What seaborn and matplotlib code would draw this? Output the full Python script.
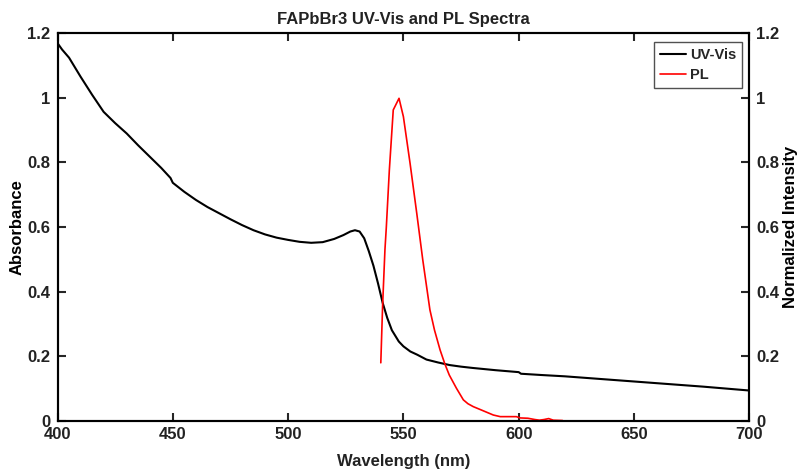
import numpy as np
import pandas as pd
import matplotlib
matplotlib.use("Agg")
import matplotlib.pyplot as plt
from matplotlib.ticker import FuncFormatter
import seaborn as sns

# UV-Vis absorbance
uv_wavelength = [400, 402, 405, 410, 415, 420, 425, 430, 435, 440, 445, 449, 450,
                 455, 460, 465, 470, 475, 480, 485, 490, 495, 500, 505, 510, 515,
                 520, 524, 527, 529, 531, 533, 535, 537, 539, 541, 543, 545, 548,
                 550, 553, 556, 560, 565, 570, 575, 580, 590, 600, 601, 610, 620,
                 635, 650, 665, 680, 700]
uv_absorbance = [1.17, 1.15, 1.125, 1.066, 1.01, 0.957, 0.922, 0.890, 0.853, 0.818,
                 0.783, 0.752, 0.737, 0.709, 0.684, 0.662, 0.643, 0.624, 0.606,
                 0.590, 0.577, 0.567, 0.560, 0.554, 0.551, 0.553, 0.563, 0.575,
                 0.586, 0.590, 0.586, 0.565, 0.525, 0.480, 0.425, 0.365, 0.318,
                 0.280, 0.245, 0.230, 0.214, 0.204, 0.189, 0.180, 0.172, 0.167,
                 0.163, 0.156, 0.150, 0.145, 0.141, 0.137, 0.129, 0.121, 0.113,
                 0.105, 0.093]

# PL normalized intensity
pl_wavelength = [540.2, 541, 542, 542.6, 543.9, 545.6, 548.1, 550, 552.9, 555.8,
                 558.4, 561.5, 563.5, 565.9, 568, 569.9, 573, 576, 578, 580.3,
                 584, 589, 592, 595, 599, 600.6, 604, 607, 609, 611, 613, 615, 619]
pl_intensity = [0.179, 0.36, 0.53, 0.60, 0.776, 0.963, 0.999, 0.942, 0.797, 0.642,
                0.498, 0.343, 0.28, 0.219, 0.175, 0.141, 0.10, 0.064, 0.052, 0.043,
                0.032, 0.017, 0.012, 0.012, 0.012, 0.008, 0.007, 0.003, 0.001,
                0.003, 0.006, 0.001, 0.0]

x_ticks = [400, 450, 500, 550, 600, 650, 700]
y_ticks = [0, 0.2, 0.4, 0.6, 0.8, 1.0, 1.2]

uv = pd.DataFrame({"Wavelength": uv_wavelength, "Absorbance": uv_absorbance})
pl = pd.DataFrame({"Wavelength": pl_wavelength, "Intensity": pl_intensity})

sns.set_style("ticks")
plt.rcParams["font.family"] = ["Liberation Sans", "DejaVu Sans"]
plt.rcParams["font.weight"] = "bold"
text_color = "#222222"

fig = plt.figure(figsize=(8, 4.71), dpi=100)
ax = fig.add_axes([0.0719, 0.1072, 0.8647, 0.8217])
ax2 = ax.twinx()

sns.lineplot(data=uv, x="Wavelength", y="Absorbance", ax=ax, color="black",
             linewidth=1.5, label="UV-Vis", legend=False)
sns.lineplot(data=pl, x="Wavelength", y="Intensity", ax=ax2, color="red",
             linewidth=1.2, label="PL", legend=False)

fmt = FuncFormatter(lambda v, _: f"{v:g}")
for a in (ax, ax2):
    a.set_xlim(400, 700)
    a.set_ylim(0, 1.2)
    a.set_yticks(y_ticks)
    a.yaxis.set_major_formatter(fmt)
    for s in a.spines.values():
        s.set_visible(True)
        s.set_linewidth(1.5)
        s.set_color("black")

ax.set_xticks(x_ticks)
ax.tick_params(axis="both", direction="in", length=6, width=1.5, labelsize=12,
               labelcolor=text_color, top=True, right=False, pad=5)
ax2.tick_params(axis="y", direction="in", length=6, width=1.5, labelsize=12,
                labelcolor=text_color, pad=5)

ax.set_xlabel("Wavelength (nm)", fontsize=12, fontweight="bold", color=text_color)
ax.set_ylabel("Absorbance", fontsize=12, fontweight="bold", color="black")
ax2.set_ylabel("Normalized Intensity", fontsize=12, fontweight="bold", color="black")
ax.xaxis.set_label_coords(0.5, -0.107)
ax.yaxis.set_label_coords(-0.0585, 0.5)
ax2.yaxis.set_label_coords(1.059, 0.5)
for lab in (ax.xaxis.label, ax.yaxis.label, ax2.yaxis.label):
    lab.set_va("center")
ax.set_title("FAPbBr3 UV-Vis and PL Spectra", fontsize=12, fontweight="bold",
             color=text_color, pad=7)

h1, l1 = ax.get_legend_handles_labels()
h2, l2 = ax2.get_legend_handles_labels()
leg = ax2.legend(h1 + h2, l1 + l2, loc="upper right", fontsize=10.5, frameon=True,
                 fancybox=False, edgecolor="#262626", handlelength=1.8,
                 handletextpad=0.25, borderpad=0.4, labelspacing=0.4,
                 borderaxespad=0, bbox_to_anchor=(0.9895, 0.978))
leg.get_frame().set_linewidth(1.0)

fig.savefig("out.png", dpi=100)
